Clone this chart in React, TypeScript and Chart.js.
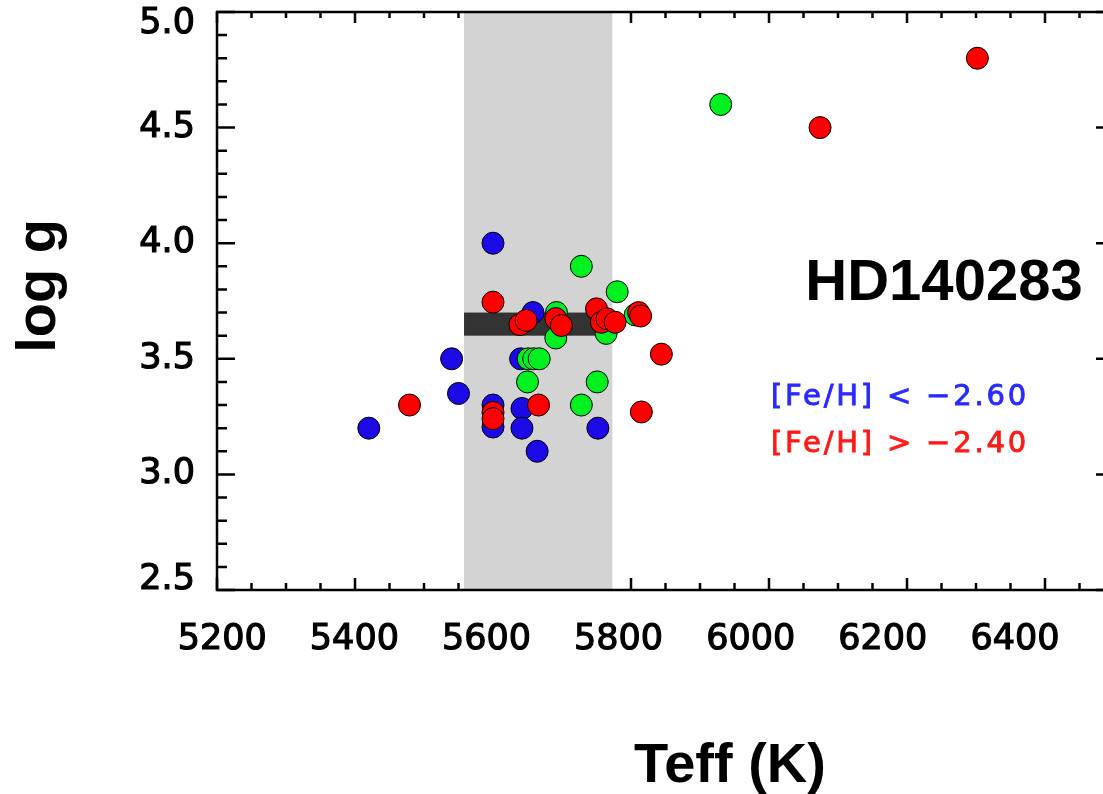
import React, { useEffect, useRef } from "react";
import { Chart, registerables } from "chart.js";

Chart.register(...registerables);

// ---- data ----
const blueTeff = [5420, 5540, 5550, 5600, 5600, 5600, 5642, 5642, 5664, 5658, 5640, 5752];
const blueLogg = [3.2, 3.5, 3.35, 4.0, 3.3, 3.205, 3.285, 3.2, 3.1, 3.7, 3.5, 3.2];

const greenTeff = [5930, 5728, 5780, 5692, 5691, 5764, 5651, 5659, 5667, 5650, 5751, 5728, 5806];
const greenLogg = [4.6, 3.9, 3.79, 3.7, 3.59, 3.61, 3.5, 3.5, 3.5, 3.4, 3.4, 3.3, 3.69];

const redTeff = [6074, 6302, 5479, 5600, 5639, 5648, 5691, 5699, 5666, 5750, 5757, 5765, 5777, 5844, 5815, 5811, 5814, 5600, 5600];
const redLogg = [4.5, 4.8, 3.3, 3.745, 3.648, 3.666, 3.674, 3.644, 3.3, 3.716, 3.658, 3.673, 3.658, 3.52, 3.27, 3.7, 3.685, 3.268, 3.241];

const bandTeff = [5558, 5773];
const barTeff = [5558, 5773];
const barLogg = [3.6, 3.7];

const xRange = [5200, 6500];
const yRange = [2.5, 5.0];
const xMinorStep = 50;
const xMajorStep = 200;
const yMinorStep = 0.1;
const yMajorStep = 0.5;
const xLabelRange = [5192, 6550];

const starName = "HD140283";
const legendLines = ["[Fe/H] < \u22122.60", "[Fe/H] > \u22122.40"];
const xTitle = "Teff (K)";
const yTitle = "log g";

const BLUE = "#1c0ae6";
const GREEN = "#00f020";
const RED = "#ff0000";

const isMultiple = (v: number, step: number) =>
  Math.abs(v / step - Math.round(v / step)) < 1e-6;

const toPoints = (xs: number[], ys: number[]) => xs.map((x, i) => ({ x, y: ys[i] }));

const framePlugin = {
  id: "framePlugin",
  beforeDatasetsDraw(chart: any) {
    const { ctx, chartArea: a, scales } = chart;
    const x = scales.x;
    const y = scales.y;
    ctx.save();
    ctx.strokeStyle = "#000";
    ctx.lineWidth = 2.5;
    ctx.beginPath();
    for (const t of x.ticks) {
      const px = x.getPixelForValue(t.value);
      const major = isMultiple(t.value, xMajorStep);
      const lb = major ? 12 : 7;
      const lt = major ? 11 : 6;
      ctx.moveTo(px, a.bottom);
      ctx.lineTo(px, a.bottom - lb);
      ctx.moveTo(px, a.top);
      ctx.lineTo(px, a.top + lt);
    }
    for (const t of y.ticks) {
      const py = y.getPixelForValue(t.value);
      const major = isMultiple(t.value, yMajorStep);
      const l = major ? 18 : 10;
      ctx.moveTo(a.left, py);
      ctx.lineTo(a.left + l, py);
      ctx.moveTo(a.right, py);
      ctx.lineTo(a.right - l, py);
    }
    ctx.stroke();

    // shaded Teff band
    const bx0 = x.getPixelForValue(bandTeff[0]);
    const bx1 = x.getPixelForValue(bandTeff[1]);
    ctx.fillStyle = "#d3d3d3";
    ctx.fillRect(bx0, a.top, bx1 - bx0, a.bottom - a.top);

    // dark log g bar
    const rx0 = x.getPixelForValue(barTeff[0]);
    const rx1 = x.getPixelForValue(barTeff[1]);
    const ry0 = y.getPixelForValue(barLogg[1]);
    const ry1 = y.getPixelForValue(barLogg[0]);
    ctx.fillStyle = "#333333";
    ctx.fillRect(rx0, ry0, rx1 - rx0, ry1 - ry0);

    // frame
    ctx.lineWidth = 2.5;
    ctx.strokeRect(a.left, a.top, a.right - a.left, a.bottom - a.top);
    ctx.restore();
  },
  afterDatasetsDraw(chart: any) {
    const { ctx } = chart;
    ctx.save();
    ctx.fillStyle = "#000";
    ctx.font = "bold 58px 'Liberation Sans', Arial, sans-serif";
    ctx.textAlign = "center";
    ctx.textBaseline = "alphabetic";
    ctx.fillText(starName, 944, 300);

    ctx.font = "bold 56px 'Liberation Sans', Arial, sans-serif";
    ctx.fillText(xTitle, 730, 782);

    ctx.save();
    ctx.translate(55, 286);
    ctx.rotate(-Math.PI / 2);
    ctx.fillText(yTitle, 0, 0);
    ctx.restore();

    ctx.textAlign = "left";
    ctx.font = "29px 'DejaVu Sans', sans-serif";
    try {
      (ctx as any).letterSpacing = "2.8px";
    } catch (e) {}
    ctx.lineWidth = 0.9;
    ctx.fillStyle = "#2a2aff";
    ctx.strokeStyle = "#2a2aff";
    ctx.fillText(legendLines[0], 771, 405);
    ctx.strokeText(legendLines[0], 771, 405);
    ctx.fillStyle = "#ff1a1a";
    ctx.strokeStyle = "#ff1a1a";
    ctx.fillText(legendLines[1], 771, 452);
    ctx.strokeText(legendLines[1], 771, 452);
    ctx.restore();
  },
};

export default function App() {
  const canvasRef = useRef<HTMLCanvasElement | null>(null);

  useEffect(() => {
    const canvas = canvasRef.current;
    if (!canvas) return;
    const tickFamily = "'DejaVu Sans', sans-serif";
    const mk = (label: string, xs: number[], ys: number[], color: string) => ({
      label,
      data: toPoints(xs, ys),
      backgroundColor: color,
      borderColor: "#000",
      borderWidth: 1,
      pointRadius: 11,
      pointHoverRadius: 11,
      showLine: false,
      xAxisID: "x",
      yAxisID: "y",
    });
    const chart = new Chart(canvas, {
      type: "scatter",
      data: {
        datasets: [
          mk("[Fe/H] > -2.40", redTeff, redLogg, RED),
          mk("intermediate", greenTeff, greenLogg, GREEN),
          mk("[Fe/H] < -2.60", blueTeff, blueLogg, BLUE),
        ],
      },
      options: {
        responsive: false,
        animation: false,
        devicePixelRatio: 1,
        layout: { padding: { left: 0, top: 11, right: 26, bottom: 0 } },
        plugins: {
          legend: { display: false },
          tooltip: { enabled: false },
          title: { display: false },
        },
        scales: {
          x: {
            type: "linear",
            display: false,
            min: xRange[0],
            max: xRange[1],
            ticks: { stepSize: xMinorStep, autoSkip: false },
          },
          xLab: {
            type: "linear",
            position: "bottom",
            min: xLabelRange[0],
            max: xLabelRange[1],
            grid: { display: false },
            border: { display: false },
            ticks: {
              stepSize: xMajorStep,
              includeBounds: false,
              autoSkip: false,
              maxRotation: 0,
              minRotation: 0,
              color: "#000",
              textStrokeColor: "#000",
              textStrokeWidth: 1.2,
              font: { family: tickFamily, size: 35 },
              padding: 21,
              callback: (v: any) => (isMultiple(Number(v), xMajorStep) ? String(v) : ""),
            },
            afterFit: (s: any) => {
              s.height = 204;
              s.paddingLeft = 0;
              s.paddingRight = 0;
            },
          },
          y: {
            type: "linear",
            position: "left",
            min: yRange[0],
            max: yRange[1],
            grid: { display: false },
            border: { display: false },
            ticks: {
              stepSize: yMinorStep,
              autoSkip: false,
              color: "#000",
              textStrokeColor: "#000",
              textStrokeWidth: 1.2,
              padding: 14,
              // end labels are nudged inwards (as in the reference) via a blank line
              font: (c: any) => {
                const v = c.tick ? c.tick.value : 0;
                if (Math.abs(v - yRange[1]) < 1e-6) return { family: tickFamily, size: 35, lineHeight: 0.7 };
                if (Math.abs(v - yRange[0]) < 1e-6) return { family: tickFamily, size: 35, lineHeight: 0.6 };
                return { family: tickFamily, size: 35 };
              },
              callback: (v: any) => {
                const n = Number(v);
                if (!isMultiple(n, yMajorStep)) return "";
                const s = n.toFixed(1);
                if (Math.abs(n - yRange[1]) < 1e-6) return ["", s];
                if (Math.abs(n - yRange[0]) < 1e-6) return [s, ""];
                return s;
              },
            },
            afterFit: (s: any) => {
              s.width = 217;
              s.paddingTop = 0;
              s.paddingBottom = 0;
            },
          },
        },
      },
      plugins: [framePlugin],
    } as any);
    return () => chart.destroy();
  }, []);

  return (
    <div
      style={{
        position: "fixed",
        left: 0,
        top: 0,
        width: 1103,
        height: 794,
        overflow: "hidden",
        background: "#fff",
      }}
    >
      <canvas ref={canvasRef} width={1140} height={794} style={{ display: "block" }} />
    </div>
  );
}
